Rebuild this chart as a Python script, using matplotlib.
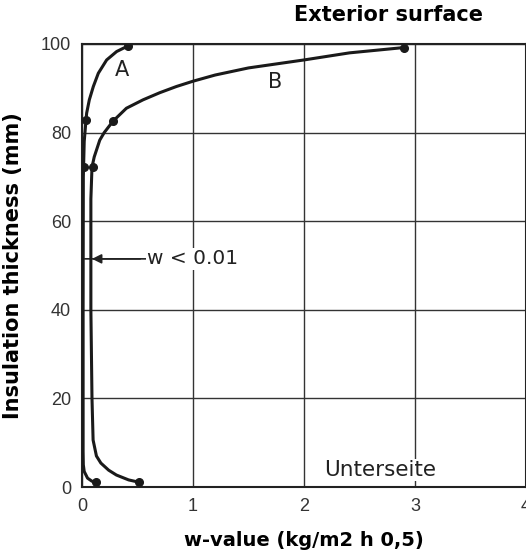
import numpy as np
import matplotlib.pyplot as plt

# curve A (w-value, thickness)
a_w = [0.417, 0.312, 0.222, 0.147, 0.102, 0.066, 0.042, 0.036, 0.02, 0.012, 0.01, 0.01,
       0.012, 0.02, 0.05, 0.09, 0.13]
a_t = [99.6, 98.3, 96.4, 93.4, 90.4, 87.4, 84.4, 82.8, 78.0, 70.0, 40.0, 8.0,
       5.0, 3.5, 2.0, 1.3, 1.1]
a_dot_w = [0.417, 0.036, 0.02, 0.13]
a_dot_t = [99.6, 82.8, 72.2, 1.1]

# curve B
b_w = [2.90, 2.41, 2.0, 1.5, 1.2, 1.0, 0.85, 0.7, 0.55, 0.4, 0.28, 0.2, 0.16, 0.11, 0.09,
       0.08, 0.08, 0.09, 0.10, 0.13, 0.17, 0.24, 0.31, 0.42, 0.51]
b_t = [99.2, 98.0, 96.4, 94.6, 93.0, 91.6, 90.4, 89.0, 87.4, 85.5, 82.6, 80.0, 78.3, 74.5, 72.2,
       65.0, 40.0, 20.0, 10.6, 7.0, 5.4, 3.8, 2.7, 1.6, 1.1]
b_dot_w = [2.90, 0.28, 0.10, 0.51]
b_dot_t = [99.2, 82.6, 72.2, 1.1]

xticks = [0, 1, 2, 3, 4]
yticks = [0, 20, 40, 60, 80, 100]

fig = plt.figure(figsize=(5.26, 5.53), dpi=100)
ax = fig.add_axes([82 / 526, 66 / 553, 444 / 526, 443 / 553])

ax.plot(a_w, a_t, color='#1a1a1a', lw=2.2, solid_capstyle='round', zorder=4)
ax.plot(b_w, b_t, color='#1a1a1a', lw=2.2, solid_capstyle='round', zorder=4)
ax.plot(a_dot_w, a_dot_t, 'o', color='#1a1a1a', ms=5.5, zorder=5)
ax.plot(b_dot_w, b_dot_t, 'o', color='#1a1a1a', ms=5.5, zorder=5)

ax.set_xlim(0, 4)
ax.set_ylim(0, 100)
ax.set_xticks(xticks)
ax.set_yticks(yticks)
ax.grid(True, color='#333333', lw=1.0)
ax.set_axisbelow(True)
ax.tick_params(length=0, labelsize=13, labelcolor='#333333', pad=8)
for lab in ax.get_xticklabels() + ax.get_yticklabels():
    lab.set_family('Liberation Sans')
for s in ax.spines.values():
    s.set_linewidth(1.5)
    s.set_color('#222222')

ax.set_xlabel('w-value (kg/m2 h 0,5)', fontsize=14, fontweight='bold')
ax.set_ylabel('Insulation thickness (mm)', fontsize=15, fontweight='bold')
ax.xaxis.set_label_coords(0.5, -0.099)
ax.yaxis.set_label_coords(-0.133, 0.5)

ax.text(2.76, 1.065, 'Exterior surface', transform=ax.get_xaxis_transform(),
        ha='center', va='center', fontsize=15, fontweight='bold')

ax.text(0.36, 94.1, 'A', ha='center', va='center', fontsize=15, color='#222222')
ax.text(1.74, 91.4, 'B', ha='center', va='center', fontsize=15, color='#222222')
ax.text(2.69, 3.8, 'Unterseite', ha='center', va='center', fontsize=15.5, color='#222222',
        bbox=dict(facecolor='white', edgecolor='none', pad=1), zorder=3)

ax.annotate('', xy=(0.0, 51.5), xytext=(0.55, 51.5),
            arrowprops=dict(arrowstyle='-', color='#222222', lw=1.2), zorder=3)
ax.annotate('w < 0.01', xy=(0.09, 51.5), xytext=(0.59, 51.5), ha='left', va='center',
            fontsize=14.5, color='#222222',
            bbox=dict(facecolor='white', edgecolor='none', pad=1),
            arrowprops=dict(arrowstyle='-|>', color='#222222', lw=1.2,
                            mutation_scale=14, shrinkA=0, shrinkB=0), zorder=3)

fig.savefig('out.png', dpi=100)
